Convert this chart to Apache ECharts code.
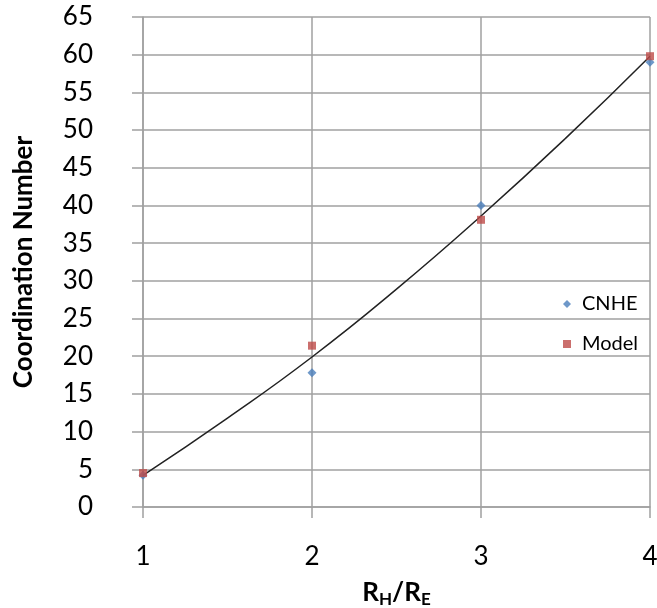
<!DOCTYPE html>
<html>
<head>
<meta charset="utf-8">
<script src="https://cdn.jsdelivr.net/npm/echarts@6/dist/echarts.min.js"></script>
<style>html,body{margin:0;padding:0;background:#fff;}#c{width:657px;height:608px;}</style>
</head>
<body>
<div id="c"></div>
<script>
// Data
const xValues = [1, 2, 3, 4];
const cnheValues = [4.2, 17.8, 40.0, 59.0];
const modelValues = [4.5, 21.4, 38.1, 59.8];
// Trend curve at these x positions
const trendX = [1, 1.5, 2, 2.5, 3, 3.5, 4];
const trendY = [4.2, 11.8, 19.9, 28.9, 38.6, 48.9, 59.8];
const yTicks = { min: 0, max: 65, step: 5 };
const xTicks = { min: 1, max: 4, step: 1 };

const pair = (xs, ys) => xs.map((x, i) => [x, ys[i]]);
const gridColor = '#a0a0a0';
const font = 'Lato, "Open Sans", sans-serif';

const chart = echarts.init(document.getElementById('c'), null, { renderer: 'canvas' });
chart.setOption({
  animation: false,
  backgroundColor: '#ffffff',
  grid: { left: 143, right: 7, top: 17, bottom: 101, containLabel: false, outerBoundsMode: 'none' },
  xAxis: {
    type: 'value', min: xTicks.min, max: xTicks.max, interval: xTicks.step,
    axisLine: { show: true, lineStyle: { color: gridColor, width: 1.5 } },
    axisTick: { show: true, length: 11, lineStyle: { color: gridColor, width: 1.5 } },
    splitLine: { show: true, lineStyle: { color: gridColor, width: 1.5 } },
    axisLabel: { margin: 37, fontSize: 26, color: '#000', fontFamily: font },
    name: '{r|R}{s|H}{r|/R}{s|E}',
    nameLocation: 'middle', nameGap: 70,
    nameTextStyle: {
      rich: {
        r: { fontSize: 26, fontWeight: 'bold', color: '#000', fontFamily: font },
        s: { fontSize: 17, fontWeight: 'bold', color: '#000', fontFamily: font, verticalAlign: 'bottom', padding: [14, 0, 0, 0] }
      }
    }
  },
  yAxis: {
    type: 'value', min: yTicks.min, max: yTicks.max, interval: yTicks.step,
    axisLine: { show: true, lineStyle: { color: gridColor, width: 1.5 } },
    axisTick: { show: true, length: 11, lineStyle: { color: gridColor, width: 1.5 } },
    splitLine: { show: true, lineStyle: { color: gridColor, width: 1.5 } },
    axisLabel: { margin: 50, fontSize: 26, color: '#000', fontFamily: font },
    name: 'Coordination Number',
    nameLocation: 'middle', nameGap: 106, nameRotate: 90,
    nameTextStyle: { fontSize: 26, fontWeight: 'bold', color: '#000', fontFamily: font }
  },
  legend: {
    orient: 'vertical', left: 558, top: 289,
    itemWidth: 8, itemHeight: 8, itemGap: 20,
    textStyle: { fontSize: 20, color: '#000', fontFamily: font, padding: [0, 0, 0, 6] },
    data: [
      { name: 'CNHE', icon: 'diamond' },
      { name: 'Model', icon: 'rect' }
    ]
  },
  series: [
    {
      name: 'Trend', type: 'line', smooth: 0.5, showSymbol: false,
      data: pair(trendX, trendY),
      lineStyle: { color: '#222', width: 1.5 }, itemStyle: { color: '#222' },
      z: 1, silent: true
    },
    {
      name: 'CNHE', type: 'scatter', symbol: 'diamond', symbolSize: 9,
      data: pair(xValues, cnheValues),
      itemStyle: { color: '#4a7ebb' }, z: 2
    },
    {
      name: 'Model', type: 'scatter', symbol: 'rect', symbolSize: 8,
      data: pair(xValues, modelValues),
      itemStyle: { color: '#be4b48' }, z: 3
    }
  ]
});
</script>
</body>
</html>
